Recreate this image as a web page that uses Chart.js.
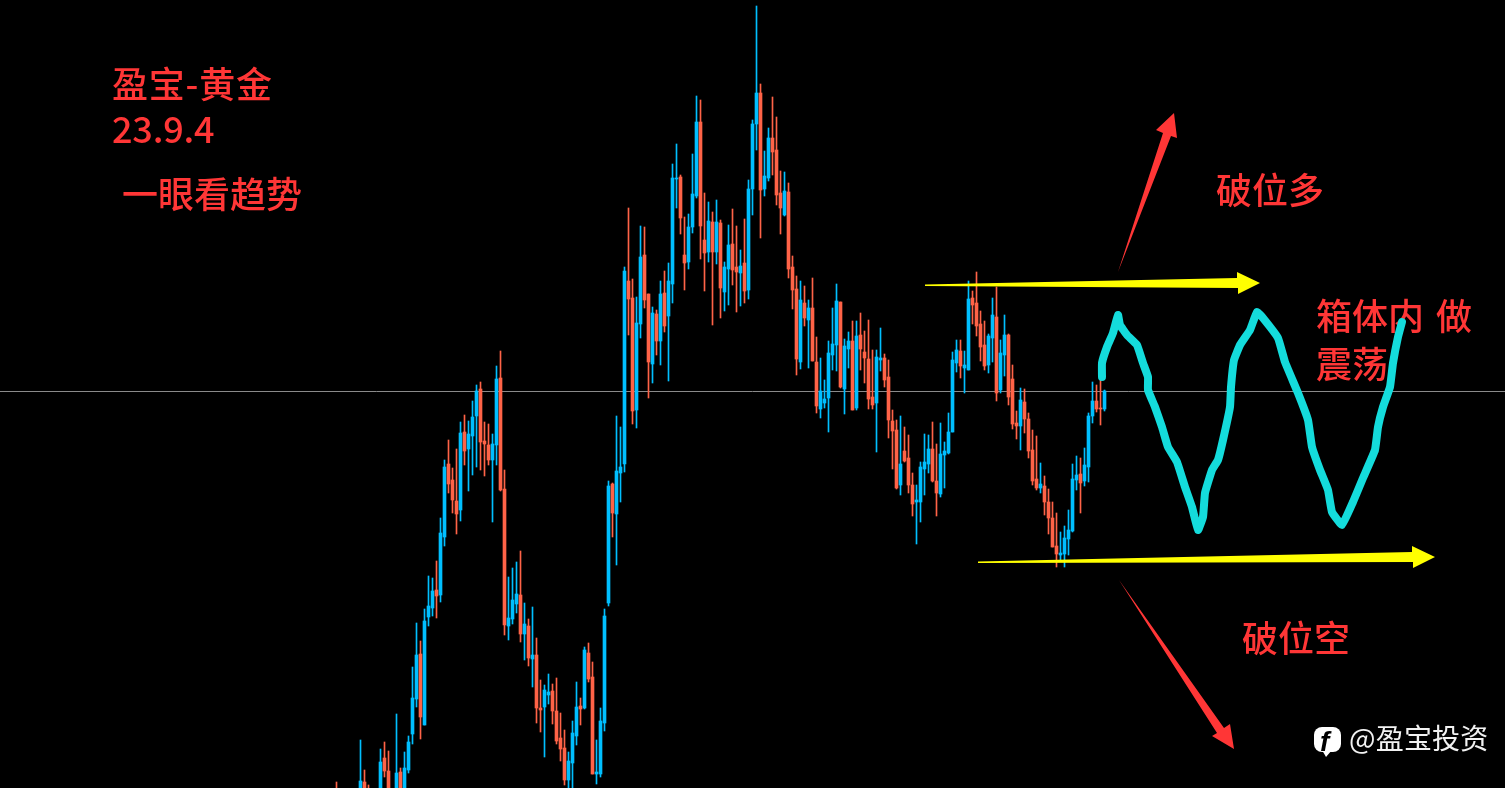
<!DOCTYPE html>
<html>
<head>
<meta charset="utf-8">
<title>盈宝-黄金 23.9.4</title>
<script src="https://cdn.jsdelivr.net/npm/chart.js@4/dist/chart.umd.min.js"></script>
<style>
  html, body { margin: 0; padding: 0; background: #000; overflow: hidden; }
  canvas { display: block; }
</style>
</head>
<body>
<canvas id="chart" width="1505" height="788"></canvas>
<script>
// candles (screen-height units, the price axis is hidden and reversed)
const highs = [
  782,795,795,795,795,795,740,770,785,795,
  795,749,742,751,795,714,768,752,736,667,
  623,641,609,576,578,561,518,460,440,468,
  449,422,415,421,401,385,382,422,424,434,
  366,351,470,577,568,562,551,603,619,607,
  638,680,685,674,684,678,713,730,752,721,
  682,698,647,643,662,740,708,609,481,483,
  416,427,267,208,279,297,226,227,294,307,
  310,281,271,263,164,144,175,217,214,154,
  96,100,193,202,212,200,220,262,225,209,
  226,250,219,180,120,6,84,151,128,97,
  117,171,172,183,256,276,281,286,300,278,
  337,358,380,341,308,284,302,339,332,321,
  321,313,331,320,350,350,328,354,360,410,
  420,416,427,435,473,485,462,434,435,422,
  444,423,442,413,352,340,340,351,281,291,
  272,311,321,334,298,287,340,315,334,365,
  411,388,389,413,430,436,463,476,489,502,
  513,532,526,510,464,456,458,448,413,382,
  385,380,390
];
const bodyHighs = [
  795,800,800,800,800,800,781,782,792,800,
  800,762,758,771,800,773,772,768,742,698,
  655,654,621,606,591,590,533,467,464,480,
  501,433,432,434,417,391,389,441,445,444,
  379,378,489,618,600,594,595,624,626,655,
  655,708,690,692,691,711,738,748,761,733,
  707,706,650,653,677,772,721,616,486,484,
  471,467,271,281,298,323,257,255,294,313,
  314,294,293,281,178,178,177,255,227,194,
  122,122,240,221,222,222,223,267,245,244,
  267,266,263,189,124,93,93,176,138,138,
  150,193,191,192,267,289,300,303,308,308,
  362,391,399,353,344,301,302,346,341,341,
  336,335,352,359,397,357,358,358,377,421,
  430,464,451,458,485,500,467,462,449,449,
  481,454,451,432,360,350,351,365,299,298,
  303,324,345,336,315,317,353,335,335,379,
  423,400,402,419,450,479,484,486,502,518,
  546,553,538,530,479,475,474,465,416,401,
  401,408,391
];
const bodyLows = [
  800,805,805,805,805,805,800,800,800,805,
  805,800,771,800,805,800,800,800,770,734,
  699,717,725,617,608,596,595,537,484,500,
  514,510,451,449,436,416,442,444,460,460,
  445,490,625,626,619,604,634,634,658,659,
  708,710,707,695,711,741,749,780,780,763,
  736,709,708,679,774,774,774,723,603,513,
  514,473,464,299,411,410,324,300,362,364,
  341,341,326,316,284,179,218,263,262,227,
  196,226,253,252,252,252,288,292,269,270,
  272,273,291,290,189,124,190,189,178,152,
  195,208,215,269,290,359,362,318,320,361,
  406,409,403,398,355,345,387,389,349,410,
  408,349,358,399,405,403,360,380,420,431,
  488,485,461,485,504,502,502,469,464,481,
  493,494,455,453,432,363,366,368,370,305,
  326,347,366,365,338,393,390,355,397,424,
  426,426,419,451,481,488,488,502,518,547,
  554,555,554,539,531,480,483,481,467,416,
  409,409,409
];
const lows = [
  805,810,810,810,810,810,810,810,810,810,
  810,810,777,810,810,810,810,810,773,744,
  707,739,725,626,616,618,602,546,493,513,
  534,521,465,491,475,467,470,476,465,522,
  465,491,635,640,624,613,642,660,666,687,
  723,732,757,704,724,744,761,785,795,795,
  745,725,709,682,774,784,777,731,606,537,
  565,502,472,335,424,428,338,308,398,383,
  355,365,332,381,303,208,234,290,269,233,
  198,259,291,262,325,264,318,311,305,285,
  312,306,303,299,215,150,238,196,181,175,
  205,234,216,278,309,375,369,326,368,361,
  413,418,408,432,370,371,388,414,368,410,
  410,370,383,409,409,452,371,387,438,469,
  489,495,462,493,516,544,522,495,473,482,
  516,497,488,454,432,372,378,393,370,324,
  336,361,370,373,362,401,393,376,405,429,
  439,450,433,458,485,490,493,515,534,547,
  567,561,567,555,532,490,513,486,482,423,
  412,425,411
];
// u = up candle (blue), d = down candle (red)
const candleDirs = [
  "dddddduddd","duddduduuu","uduuuduudd","duduuudddu","udduuududu",
  "dduudddduu","ududduuuud","uuudduuddu","duduuudduu","uddududuud",
  "duduuuduud","ddudddudud","duuuuuduud","udddduuddd","duddduuuud",
  "duuuuuduud","ddduuduudd","dudddduddd","duuuuuduuu","ddu"
].join("");

// hand-drawn marks on top of the chart
const refLevel = 391.5;
const refLineXs = [0, 1505];
const curveXs = [1102,1102,1107,1113,1118,1120,1127,1137,1143,1148,1148,1155,1162,1168,1177,1185,1192,1198,1203,1205,1212,1218,1223,1230,1231,1234,1240,1250,1257,1263,1278,1285,1298,1308,1312,1320,1328,1332,1342,1353,1363,1375,1378,1383,1390,1393,1398,1402];
const curveYs = [377,363,347,333,315,325,335,345,363,377,390,407,427,447,462,487,507,530,517,493,470,460,440,407,387,360,345,330,312,318,338,362,393,420,447,470,490,512,525,502,478,450,427,407,387,363,337,322];
const yellowTopXs = [925,1237,1237,1260,1238,1238,925];
const yellowTopYs = [284.5,278,272,283,294,288,286];
const yellowBottomXs = [978,1412,1412,1435,1413,1413,978];
const yellowBottomYs = [561.5,552,546,557,568,562,563];
const redUpXs = [1118,1163,1156,1174,1177,1171];
const redUpYs = [272,133,130,113,138,136];
const redDownXs = [1119,1224,1230,1234,1212,1217];
const redDownYs = [580,728,724,749,736,733];

const UP_COLOR = "#00BFFF";
const DOWN_COLOR = "#FF6347";
const RED_TEXT = "#FF3636";
const CJK_FONT = '"Noto Sans CJK SC", "Noto Sans", sans-serif';

const labels = [
  { text: "盈宝-黄金", x: 112, y: 98, spacing: "0.8px" },
  { text: "23.9.4", x: 112, y: 143, spacing: "-0.2px" },
  { text: "一眼看趋势", x: 122, y: 208, spacing: "0px" },
  { text: "破位多", x: 1216, y: 204, spacing: "0px" },
  { text: "箱体内", x: 1316, y: 330, spacing: "0px" },
  { text: "做", x: 1436, y: 330, spacing: "0px" },
  { text: "震荡", x: 1316, y: 378, spacing: "0px" },
  { text: "破位空", x: 1242, y: 652, spacing: "0px" }
];

function pairs(xs, ys) {
  return xs.map((x, i) => ({ x: x, y: ys[i] }));
}

function polygon(xs, ys, color) {
  return {
    type: "line",
    data: pairs(xs, ys),
    xAxisID: "xDraw",
    yAxisID: "y",
    borderWidth: 0,
    pointRadius: 0,
    backgroundColor: color,
    fill: "shape",
    tension: 0,
    order: 3
  };
}

const candleColors = highs.map((_, i) => (candleDirs[i] === "u" ? UP_COLOR : DOWN_COLOR));

// text goes under the datasets, the cyan curve crosses over the label
const textPlugin = {
  id: "textPlugin",
  beforeDatasetsDraw(chart) {
    const ctx = chart.ctx;
    ctx.save();
    ctx.textBaseline = "alphabetic";
    ctx.fillStyle = RED_TEXT;
    ctx.font = `500 36px ${CJK_FONT}`;
    labels.forEach((l) => {
      ctx.letterSpacing = l.spacing;
      ctx.fillText(l.text, l.x, l.y);
    });
    ctx.letterSpacing = "0px";

    // watermark with the small logo
    ctx.fillStyle = "#fff";
    ctx.beginPath();
    ctx.roundRect(1314, 727, 27, 25, 8);
    ctx.fill();
    ctx.beginPath();
    ctx.moveTo(1322, 750);
    ctx.lineTo(1326, 757);
    ctx.lineTo(1332, 750);
    ctx.fill();
    ctx.fillStyle = "#000";
    ctx.font = `italic bold 28px "Liberation Sans", sans-serif`;
    ctx.fillText("f", 1320, 751);
    ctx.fillStyle = "#f2f2f2";
    ctx.font = `28px ${CJK_FONT}`;
    ctx.letterSpacing = "0.2px";
    ctx.fillText("@盈宝投资", 1349, 749);
    ctx.restore();
  }
};

new Chart(document.getElementById("chart"), {
  type: "bar",
  data: {
    datasets: [
      {
        type: "line",
        data: pairs(refLineXs, [refLevel, refLevel]),
        xAxisID: "xDraw",
        yAxisID: "y",
        borderColor: "#8a8a8a",
        borderWidth: 1,
        pointRadius: 0,
        order: 10
      },
      {
        // wicks
        data: highs.map((h, i) => ({ x: i, y: [h, lows[i]] })),
        backgroundColor: candleColors,
        barThickness: 1,
        grouped: false,
        borderWidth: 0,
        order: 9
      },
      {
        // bodies
        data: bodyHighs.map((h, i) => ({ x: i, y: [h, bodyLows[i]] })),
        backgroundColor: candleColors,
        barThickness: 3,
        grouped: false,
        borderWidth: 0,
        order: 8
      },
      polygon(yellowTopXs, yellowTopYs, "#FFFF00"),
      polygon(yellowBottomXs, yellowBottomYs, "#FFFF00"),
      polygon(redUpXs, redUpYs, RED_TEXT),
      polygon(redDownXs, redDownYs, RED_TEXT),
      {
        type: "line",
        data: pairs(curveXs, curveYs),
        xAxisID: "xDraw",
        yAxisID: "y",
        borderColor: "#14DCDC",
        borderWidth: 8,
        borderCapStyle: "round",
        borderJoinStyle: "round",
        pointRadius: 0,
        tension: 0.1,
        order: 1
      }
    ]
  },
  plugins: [textPlugin],
  options: {
    responsive: false,
    animation: false,
    layout: { padding: 0 },
    plugins: {
      legend: { display: false },
      tooltip: { enabled: false }
    },
    scales: {
      // 4px per bar, bar 0 sits at 336.5px
      x: { type: "linear", offset: false, min: -84.125, max: 292.125, display: false },
      xDraw: { type: "linear", offset: false, min: 0, max: 1505, display: false },
      y: { type: "linear", min: 0, max: 788, reverse: true, display: false }
    }
  }
});
</script>
</body>
</html>
